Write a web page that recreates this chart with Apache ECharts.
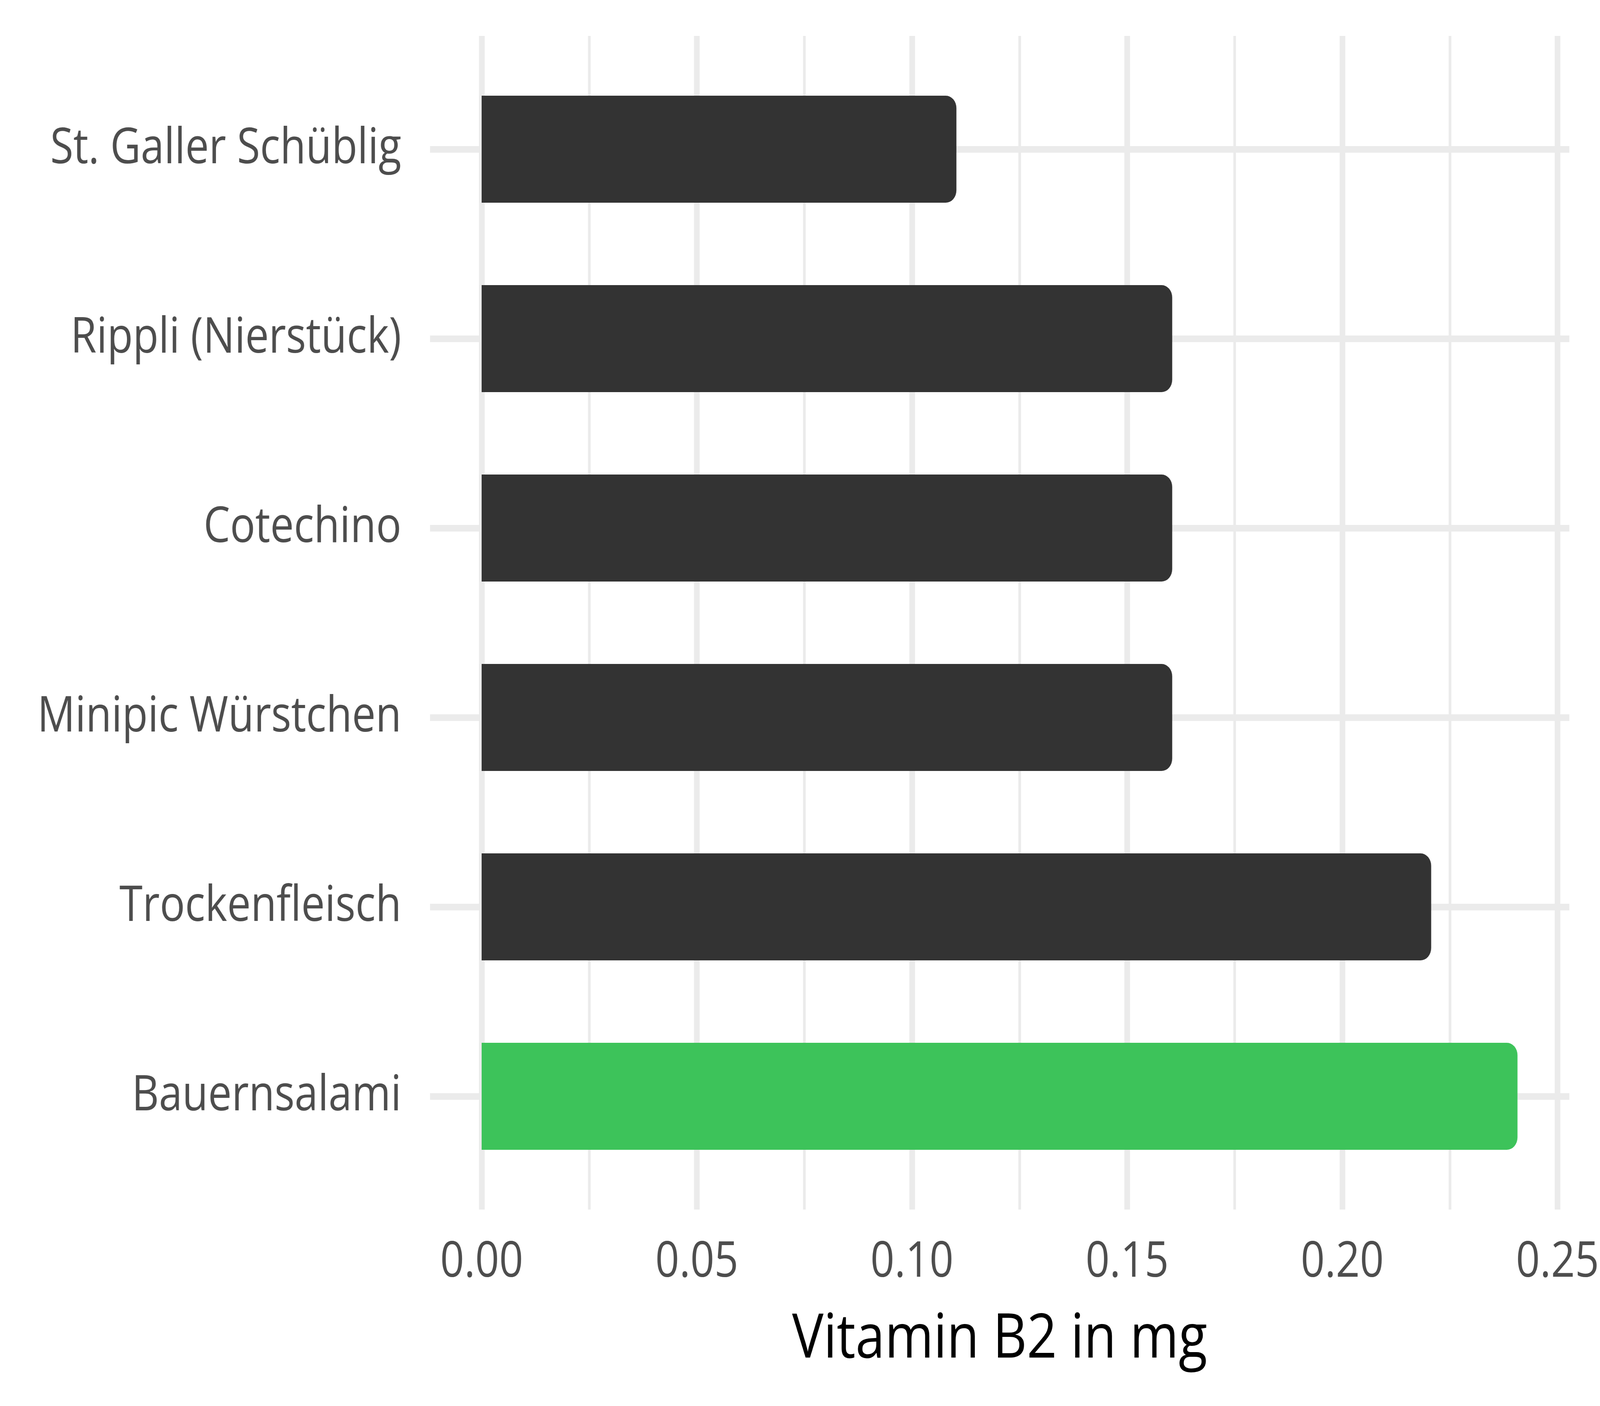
<!DOCTYPE html>
<html>
<head>
<meta charset="utf-8">
<script src="https://cdn.jsdelivr.net/npm/echarts@6/dist/echarts.min.js"></script>
<style>html,body{margin:0;padding:0;background:#fff;overflow:hidden}#c{width:4800px;height:3600px;transform-origin:0 0}</style>
</head>
<body>
<div id="c"></div>
<script>
const categories = ['St. Galler Schüblig', 'Rippli (Nierstück)', 'Cotechino', 'Minipic Würstchen', 'Trockenfleisch', 'Bauernsalami'];
const values = [0.11, 0.16, 0.16, 0.16, 0.22, 0.24];
const highlighted = ['Bauernsalami'];
const xTicks = [0, 0.05, 0.10, 0.15, 0.20, 0.25];
const axisTitle = 'Vitamin B2 in mg';

const DARK = '#333333', GREEN = '#3DC35A', GRID = '#EBEBEB', TXT = '#4D4D4D';
const FONT = '"Open Sans", "Noto Sans", sans-serif';

// fit the 4800x3600 design into the actual viewport
const el = document.getElementById('c');
const sx = window.innerWidth / 4800, sy = window.innerHeight / 3600;
el.style.transform = 'scale(' + sx + ',' + sy + ')';

const chart = echarts.init(el, null, {renderer: 'canvas', width: 4800, height: 3600});
const fillData = values.map((v, i) => ({
  value: v,
  itemStyle: {color: highlighted.includes(categories[i]) ? GREEN : DARK}
}));

chart.setOption({
  animation: false,
  backgroundColor: '#ffffff',
  grid: [
    {left: 1290, right: 92, top: 139.5, bottom: 550.5},   // horizontal grid lines + title
    {left: 1445, right: 118, top: 92, bottom: 503},       // vertical grid lines + x labels
    {left: 1445, right: 118, top: 139.5, bottom: 550.5}   // bars
  ],
  xAxis: [
    {gridIndex: 0, type: 'value', min: 0, max: 1, show: true,
     axisLine: {show: false}, axisTick: {show: false}, axisLabel: {show: false}, splitLine: {show: false},
     name: axisTitle, nameLocation: 'middle', nameGap: 302,
     nameTextStyle: {fontFamily: FONT, fontSize: 158, color: '#000000'}},
    {gridIndex: 1, type: 'value', min: 0, max: 0.25, interval: 0.05,
     axisLine: {show: false}, axisTick: {show: false},
     axisLabel: {fontFamily: FONT, fontSize: 126, color: TXT, margin: 73,
       formatter: v => { const t = xTicks.find(x => Math.abs(x - v) < 1e-9); return (t === undefined ? v : t).toFixed(2); }},
     splitLine: {show: true, lineStyle: {color: GRID, width: 17}},
     minorTick: {show: false, splitNumber: 2},
     minorSplitLine: {show: true, lineStyle: {color: GRID, width: 8}}},
    {gridIndex: 2, type: 'value', min: 0, max: 0.25, show: false}
  ],
  yAxis: [
    {gridIndex: 0, type: 'category', data: categories, inverse: true,
     axisLine: {show: false}, axisLabel: {show: false}, splitLine: {show: false},
     axisTick: {show: true, inside: true, alignWithLabel: true, length: 3418, lineStyle: {color: GRID, width: 17}}},
    {gridIndex: 1, type: 'value', show: false},
    {gridIndex: 2, type: 'category', data: categories, inverse: true,
     axisLine: {show: false}, axisTick: {show: false}, splitLine: {show: false},
     axisLabel: {fontFamily: FONT, fontSize: 126, color: TXT, margin: 241}}
  ],
  series: [
    {type: 'bar', xAxisIndex: 2, yAxisIndex: 2, data: values, barWidth: 274, z: 2,
     itemStyle: {color: '#ffffff', borderColor: '#ffffff', borderWidth: 30, borderRadius: [0, 36, 36, 0]},
     silent: true,
     markLine: {silent: true, symbol: 'none', label: {show: false}, z: 4,
       lineStyle: {color: GRID, width: 17, type: 'solid'}, emphasis: {disabled: true},
       data: [{xAxis: 0}]}},
    {type: 'bar', xAxisIndex: 2, yAxisIndex: 2, data: fillData, barWidth: 274, barGap: '-100%', z: 10,
     itemStyle: {borderRadius: [0, 32, 32, 0]}}
  ]
});
</script>
</body>
</html>
